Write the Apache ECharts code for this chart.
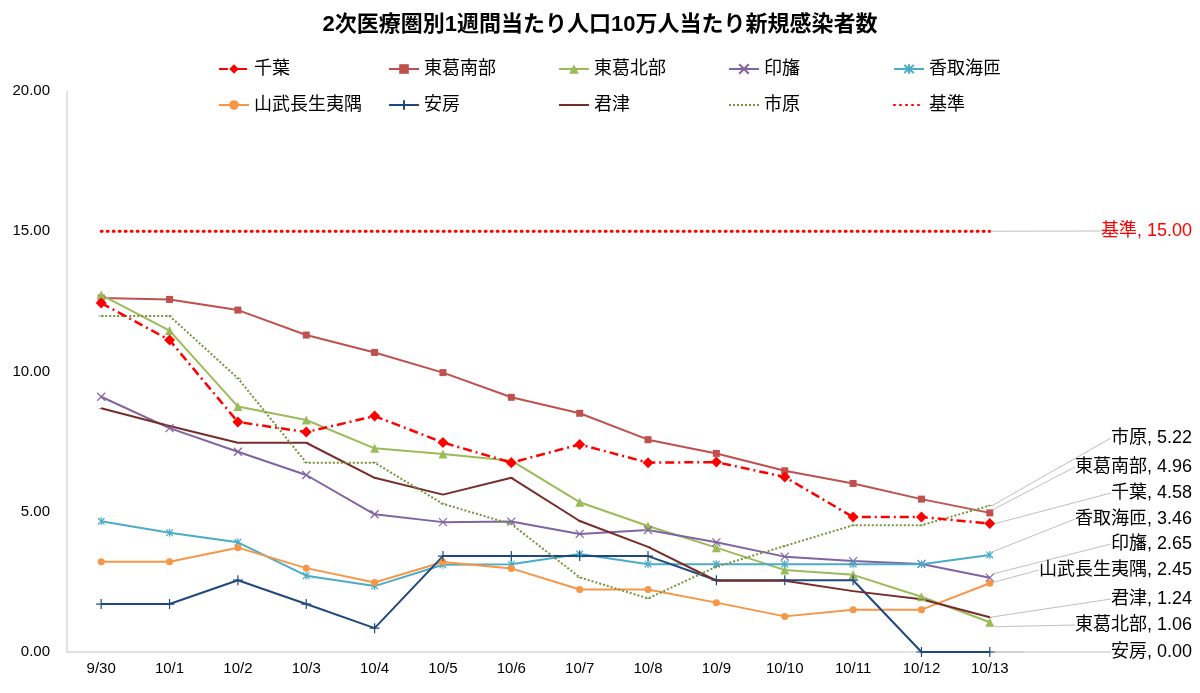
<!DOCTYPE html>
<html>
<head>
<meta charset="utf-8">
<script src="https://cdn.jsdelivr.net/npm/echarts@6/dist/echarts.min.js"></script>
<style>
  html, body { margin: 0; padding: 0; background: #fff; }
  #main { width: 1200px; height: 693px; }
</style>
</head>
<body>
<div id="main"></div>
<script>
// 日付
const dates = ['9/30', '10/1', '10/2', '10/3', '10/4', '10/5', '10/6', '10/7', '10/8', '10/9', '10/10', '10/11', '10/12', '10/13'];

// 各医療圏の値
const chiba = [12.44, 11.12, 8.20, 7.84, 8.41, 7.47, 6.75, 7.40, 6.75, 6.77, 6.24, 4.81, 4.81, 4.58];
const toukatsuNanbu = [12.62, 12.57, 12.19, 11.30, 10.68, 9.96, 9.08, 8.51, 7.57, 7.08, 6.46, 6.01, 5.45, 4.96];
const toukatsuHokubu = [12.73, 11.46, 8.75, 8.27, 7.26, 7.06, 6.82, 5.34, 4.49, 3.72, 2.92, 2.75, 1.97, 1.06];
const inba = [9.10, 7.98, 7.14, 6.31, 4.91, 4.63, 4.65, 4.21, 4.35, 3.91, 3.40, 3.24, 3.14, 2.65];
const katori = [4.66, 4.25, 3.91, 2.72, 2.35, 3.11, 3.13, 3.49, 3.13, 3.13, 3.13, 3.13, 3.13, 3.46];
const sanbu = [3.22, 3.22, 3.72, 2.99, 2.48, 3.21, 2.98, 2.23, 2.23, 1.76, 1.27, 1.51, 1.51, 2.45];
const awa = [1.71, 1.71, 2.56, 1.71, 0.85, 3.42, 3.42, 3.42, 3.42, 2.56, 2.56, 2.56, 0.00, 0.00];
const kimitsu = [8.69, 8.06, 7.46, 7.46, 6.21, 5.61, 6.21, 4.67, 3.75, 2.54, 2.54, 2.17, 1.88, 1.24];
const ichihara = [11.98, 11.98, 9.76, 6.75, 6.75, 5.28, 4.56, 2.66, 1.91, 3.04, 3.78, 4.52, 4.52, 5.22];
const kijun = [15, 15, 15, 15, 15, 15, 15, 15, 15, 15, 15, 15, 15, 15];

// y軸
const yTicks = [0, 5, 10, 15, 20];

// 右端ラベルの縦位置 (px)
const labelY = {
  '千葉': 493, '東葛南部': 467, '東葛北部': 625, '印旛': 544, '香取海匝': 519,
  '山武長生夷隅': 570, '安房': 652, '君津': 599, '市原': 438, '基準': 231
};

const FONT = 'Liberation Sans, Noto Sans CJK JP';
const X_PATH = 'path://M0,0L10,10M10,0L0,10';
const STAR_PATH = 'path://M0,0L10,10M10,0L0,10M5,-1L5,11';
const PLUS_PATH = 'path://M5,0L5,10M0,5L10,5';
const DASH_PATH = 'path://M0,0H6V2H0Z';

var chartDom = document.getElementById('main');
var myChart = echarts.init(chartDom);

function makeSeries(name, values, color, opts) {
  const data = values.map((v, i) => {
    if (i === values.length - 1) {
      return { value: v, label: { show: true } };
    }
    return v;
  });
  let itemStyle = { color: color };
  if (opts.stroked) {
    itemStyle = { color: 'rgba(0,0,0,0)', borderColor: color, borderWidth: 1.2 };
  } else if (opts.hidden) {
    itemStyle = { color: 'rgba(0,0,0,0)' };
  }
  return {
    name: name,
    type: 'line',
    data: data,
    symbol: opts.symbol,
    symbolSize: opts.symbolSize,
    symbolKeepAspect: true,
    showAllSymbol: true,
    z: opts.z || 2,
    lineStyle: Object.assign({ color: color, width: 2 }, opts.lineStyle || {}),
    itemStyle: itemStyle,
    label: {
      show: false,
      fontSize: 18,
      fontFamily: FONT,
      color: opts.labelColor || '#000',
      formatter: p => `${name}, ${p.value.toFixed(2)}`
    },
    labelLine: {
      show: true,
      lineStyle: { color: '#BFBFBF', width: 1 }
    },
    labelLayout: {
      x: 1192,
      y: labelY[name],
      align: 'right',
      verticalAlign: 'middle'
    },
    emphasis: { disabled: true }
  };
}

const series = [
  makeSeries('千葉', chiba, '#FF0000', { symbol: 'diamond', symbolSize: 11, z: 5, lineStyle: { width: 2.5, type: [9, 4, 2, 4] } }),
  makeSeries('東葛南部', toukatsuNanbu, '#C0504D', { symbol: 'rect', symbolSize: 7 }),
  makeSeries('東葛北部', toukatsuHokubu, '#9BBB59', { symbol: 'triangle', symbolSize: 9 }),
  makeSeries('印旛', inba, '#8064A2', { symbol: X_PATH, symbolSize: 8, stroked: true }),
  makeSeries('香取海匝', katori, '#4BACC6', { symbol: STAR_PATH, symbolSize: 8, stroked: true }),
  makeSeries('山武長生夷隅', sanbu, '#F79646', { symbol: 'circle', symbolSize: 7 }),
  makeSeries('安房', awa, '#1F497D', { symbol: PLUS_PATH, symbolSize: 10, stroked: true }),
  makeSeries('君津', kimitsu, '#772C2A', { symbol: DASH_PATH, symbolSize: [5, 1.6] }),
  makeSeries('市原', ichihara, '#77933C', { symbol: DASH_PATH, symbolSize: [6, 2], lineStyle: { type: [2, 2] } }),
  makeSeries('基準', kijun, '#FF0000', { symbol: 'circle', symbolSize: 1, hidden: true, labelColor: '#FF0000', lineStyle: { width: 3, type: [1, 5], cap: 'round' } })
];

// 凡例でマーカーを目立たせない系列
const plainLegend = ['君津', '市原'];

const legendColumns = [
  ['千葉', '山武長生夷隅'],
  ['東葛南部', '安房'],
  ['東葛北部', '君津'],
  ['印旛', '市原'],
  ['香取海匝', '基準']
];
const legendLeft = [213, 383, 553, 723, 888];

var option = {
  animation: false,
  backgroundColor: '#fff',
  textStyle: { fontFamily: FONT },
  title: {
    text: '2次医療圏別1週間当たり人口10万人当たり新規感染者数',
    left: 'center',
    top: 9,
    textStyle: { fontSize: 22, fontWeight: 'bold', color: '#000', fontFamily: FONT }
  },
  legend: legendColumns.map((col, i) => ({
    data: col.map(n => plainLegend.includes(n)
      ? { name: n, itemStyle: { color: 'rgba(0,0,0,0)' } }
      : n),
    orient: 'vertical',
    left: legendLeft[i],
    top: 54,
    itemWidth: 30,
    itemHeight: 12,
    itemGap: 16,
    selectedMode: false,
    textStyle: { fontSize: 18, color: '#000', fontFamily: FONT, lineHeight: 20 }
  })),
  grid: { left: 67, right: 176, top: 91, bottom: 41 },
  xAxis: {
    type: 'category',
    data: dates,
    axisLine: { lineStyle: { color: '#D9D9D9', width: 1.5 } },
    axisTick: { show: false },
    axisLabel: { color: '#000', fontSize: 15, margin: 9 }
  },
  yAxis: {
    type: 'value',
    min: yTicks[0],
    max: yTicks[yTicks.length - 1],
    interval: 5,
    splitLine: { show: false },
    axisLine: { show: true, lineStyle: { color: '#D9D9D9', width: 1.5 } },
    axisTick: { show: false },
    axisLabel: {
      color: '#000',
      fontSize: 15,
      margin: 17,
      formatter: v => v.toFixed(2)
    }
  },
  series: series
};

option && myChart.setOption(option);
</script>
</body>
</html>
